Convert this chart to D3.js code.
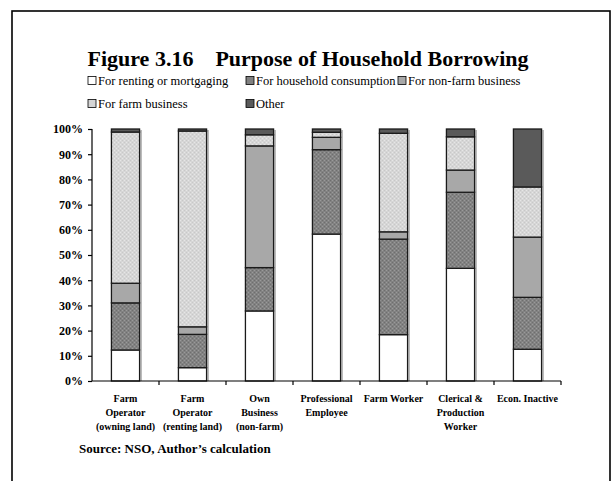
<!DOCTYPE html>
<html>
<head>
<meta charset="utf-8">
<script src="https://cdn.jsdelivr.net/npm/d3@7"></script>
<style>
  html, body { margin: 0; padding: 0; background: #fff; }
  svg { display: block; }
  svg text { font-family: "Liberation Serif", "Times New Roman", serif; fill: #000; }
</style>
</head>
<body>
<svg id="chart" width="613" height="481"></svg>
<script>
// Occupation groups (x axis), one label line per array entry
const categories = [
  ["Farm", "Operator", "(owning land)"],
  ["Farm", "Operator", "(renting land)"],
  ["Own", "Business", "(non-farm)"],
  ["Professional", "Employee"],
  ["Farm Worker"],
  ["Clerical &", "Production", "Worker"],
  ["Econ. Inactive"]
];

const seriesNames = [
  "For renting or mortgaging",
  "For household consumption",
  "For non-farm business",
  "For farm business",
  "Other"
];

// Share of borrowing by purpose (%), one value per occupation group
const renting     = [12.3,  5.3, 27.8, 58.3, 18.4, 44.7, 12.6];
const consumption = [18.7, 13.2, 17.2, 33.5, 37.9, 30.2, 20.6];
const nonFarm     = [ 7.8,  3.0, 48.3,  4.9,  2.9,  8.8, 23.9];
const farm        = [60.0, 77.7,  4.4,  2.0, 39.1, 13.2, 19.9];
const other       = [ 1.2,  0.8,  2.3,  1.3,  1.7,  3.1, 23.0];

const yTicks = [0, 10, 20, 30, 40, 50, 60, 70, 80, 90, 100];

const seriesValues = [renting, consumption, nonFarm, farm, other];

const SERIF = "'Liberation Serif', 'Times New Roman', serif";

const svg = d3.select("#chart");

// Fill textures for the two dotted segments
const defs = svg.append("defs");
function dotPattern(id, base, light, dark) {
  const p = defs.append("pattern").attr("id", id)
    .attr("patternUnits", "userSpaceOnUse").attr("width", 4).attr("height", 4);
  p.append("rect").attr("width", 4).attr("height", 4).attr("fill", base);
  p.append("rect").attr("x", 0).attr("y", 0).attr("width", 1).attr("height", 1).attr("fill", light);
  p.append("rect").attr("x", 2).attr("y", 2).attr("width", 1).attr("height", 1).attr("fill", light);
  p.append("rect").attr("x", 2).attr("y", 0).attr("width", 1).attr("height", 1).attr("fill", dark);
  p.append("rect").attr("x", 0).attr("y", 2).attr("width", 1).attr("height", 1).attr("fill", dark);
}
dotPattern("dotDark", "#828282", "#9a9a9a", "#6e6e6e");
dotPattern("dotLight", "#d6d6d6", "#e6e6e6", "#c8c8c8");

const fills = ["#ffffff", "url(#dotDark)", "#a8a8a8", "url(#dotLight)", "#5a5a5a"];
const swatchFills = ["#ffffff", "#808080", "#a8a8a8", "#d4d4d4", "#5a5a5a"];

// Outer frame
svg.append("rect")
  .attr("x", 12).attr("y", 11).attr("width", 598).attr("height", 490)
  .attr("fill", "none").attr("stroke", "#000").attr("stroke-width", 1.6);

// Title
svg.append("text")
  .attr("x", 308).attr("y", 66)
  .attr("text-anchor", "middle")
  .style("font-family", SERIF)
  .style("font-size", "22px").style("font-weight", "bold")
  .attr("xml:space", "preserve")
  .text("Figure 3.16    Purpose of Household Borrowing");

// Legend: three columns, two rows
const legendCols = [88, 246, 398];
const legendRows = [85, 108];
seriesNames.forEach((name, i) => {
  const cx = legendCols[i % 3], cy = legendRows[Math.floor(i / 3)];
  const g = svg.append("g").attr("transform", `translate(${cx},${cy})`);
  g.append("rect").attr("x", 0).attr("y", -8.5).attr("width", 8).attr("height", 8)
    .attr("fill", swatchFills[i]).attr("stroke", "#000").attr("stroke-width", 0.8);
  g.append("text").attr("x", 10).attr("y", 0)
    .style("font-family", SERIF)
    .style("font-size", "12.5px").text(name);
});

// Plot area
const plot = { left: 92, right: 561, top: 129, bottom: 381 };

const x = d3.scaleBand()
  .domain(d3.range(categories.length))
  .range([plot.left, plot.right])
  .paddingInner(0.58).paddingOuter(0.29);

const y = d3.scaleLinear().domain([0, 100]).range([plot.bottom, plot.top]);

// Stack the series per occupation group
const rows = categories.map((c, i) => {
  const r = { idx: i };
  seriesValues.forEach((arr, s) => { r["s" + s] = arr[i]; });
  return r;
});
const stack = d3.stack().keys(seriesValues.map((_, s) => "s" + s));
const stacked = stack(rows);

const barsG = svg.append("g");
// soft shadow on the right edge of each bar
barsG.selectAll("line.shadow")
  .data(rows)
  .join("line")
  .attr("x1", d => x(d.idx) + x.bandwidth() + 1.5)
  .attr("x2", d => x(d.idx) + x.bandwidth() + 1.5)
  .attr("y1", y(100) + 1)
  .attr("y2", y(0))
  .attr("stroke", "#9a9a9a").attr("stroke-width", 1.2);

stacked.forEach((layer, s) => {
  barsG.selectAll(null)
    .data(layer)
    .join("rect")
    .attr("x", (d, i) => x(i))
    .attr("width", x.bandwidth())
    .attr("y", d => y(d[1]))
    .attr("height", d => y(d[0]) - y(d[1]))
    .attr("fill", fills[s])
    .attr("stroke", "#1a1a1a")
    .attr("stroke-width", 1.3);
});

// Y axis
const yAxis = d3.axisLeft(y)
  .tickValues(yTicks)
  .tickFormat(d => d + "%")
  .tickSize(4).tickPadding(5);
const yG = svg.append("g").attr("transform", `translate(${plot.left},0)`).call(yAxis);
yG.select(".domain").attr("stroke", "#000").attr("stroke-width", 1.2).attr("d", `M0,${plot.top}V${plot.bottom}`);
yG.selectAll(".tick line").attr("stroke", "#000").attr("stroke-width", 1.2);
yG.selectAll(".tick text")
  .style("font-family", SERIF)
  .style("font-size", "12px").style("font-weight", "bold").attr("fill", "#000");

// X axis: ticks between groups
const xBoundaries = d3.range(categories.length + 1).map(i => plot.left + i * (plot.right - plot.left) / categories.length);
const xG = svg.append("g");
xG.append("line")
  .attr("x1", plot.left).attr("x2", plot.right)
  .attr("y1", plot.bottom).attr("y2", plot.bottom)
  .attr("stroke", "#000").attr("stroke-width", 1.2);
xG.selectAll("line.tk")
  .data(xBoundaries.slice(1))
  .join("line")
  .attr("x1", d => d).attr("x2", d => d)
  .attr("y1", plot.bottom).attr("y2", plot.bottom + 4)
  .attr("stroke", "#000").attr("stroke-width", 1.2);

// Category labels
categories.forEach((lines, i) => {
  const t = svg.append("text")
    .attr("x", x(i) + x.bandwidth() / 2)
    .attr("y", 402)
    .attr("text-anchor", "middle")
    .style("font-family", SERIF)
    .style("font-size", "10px").style("font-weight", "bold");
  lines.forEach((ln, j) => {
    t.append("tspan").attr("x", x(i) + x.bandwidth() / 2).attr("y", 402 + j * 14).text(ln);
  });
});

// Source note
svg.append("text")
  .attr("x", 79).attr("y", 453)
  .style("font-family", SERIF)
  .style("font-size", "13px").style("font-weight", "bold")
  .text("Source: NSO, Author\u2019s calculation");
</script>
</body>
</html>
